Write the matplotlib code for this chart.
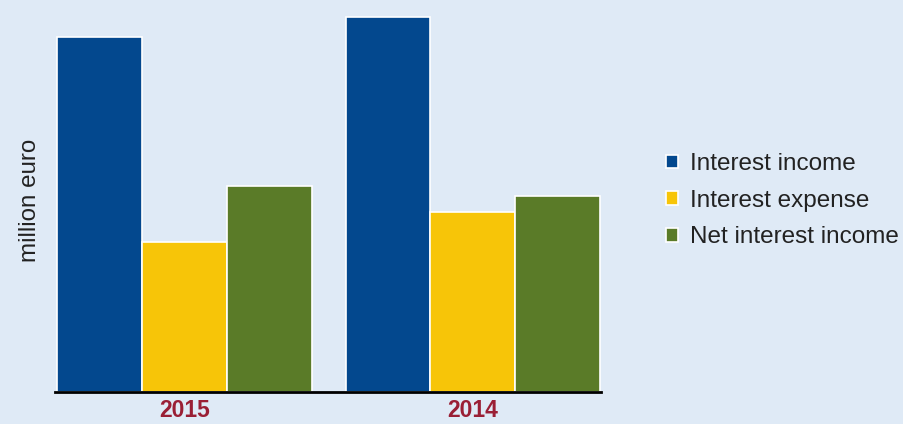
import matplotlib
matplotlib.use("Agg")
import matplotlib.pyplot as plt
import numpy as np

years = ["2015", "2014"]
series_names = ["Interest income", "Interest expense", "Net interest income"]
interest_income = [355, 375]
interest_expense = [150, 180]
net_interest_income = [206, 196]
colors = ["#03488e", "#f7c508", "#5a7b28"]
bg = "#dfeaf6"

plt.rcParams['font.family'] = ['Liberation Sans', 'DejaVu Sans']

fig = plt.figure(figsize=(9.04, 4.24), dpi=100, facecolor=bg)
ax = fig.add_axes([55/904, (424-392)/424, (601-55)/904, (392-8)/424])
ax.set_facecolor(bg)

x = np.arange(len(years))
w = 0.294
data = [interest_income, interest_expense, net_interest_income]
for i, (vals, c, name) in enumerate(zip(data, colors, series_names)):
    ax.bar(x + (i - 1) * w, vals, width=w, color=c, edgecolor="white",
           linewidth=1.2, label=name, zorder=2)

ax.set_xlim(-0.441 - 0.007, 1.441 + 0.003)
ax.set_ylim(0, 384)
for s in ["top", "right", "left"]:
    ax.spines[s].set_visible(False)
ax.spines["bottom"].set_linewidth(2)
ax.spines["bottom"].set_color("black")
ax.spines["bottom"].set_zorder(3)
ax.set_yticks([])
ax.set_xticks(x)
ax.set_xticklabels(years, fontsize=16.5, fontweight="bold", color="#9a1f35")
ax.tick_params(axis="x", length=0, pad=5)
ax.set_ylabel("million euro", fontsize=17.4, color="#222222", labelpad=10)

leg = ax.legend(loc="center left", bbox_to_anchor=((656 - 55) / 546, 0.498),
                frameon=False, fontsize=17.5, handlelength=0.5, handleheight=0.5,
                handletextpad=0.5, labelspacing=0.6, borderaxespad=0)
for t in leg.get_texts():
    t.set_color("#222222")

fig.savefig("out.png", dpi=100, facecolor=bg)
